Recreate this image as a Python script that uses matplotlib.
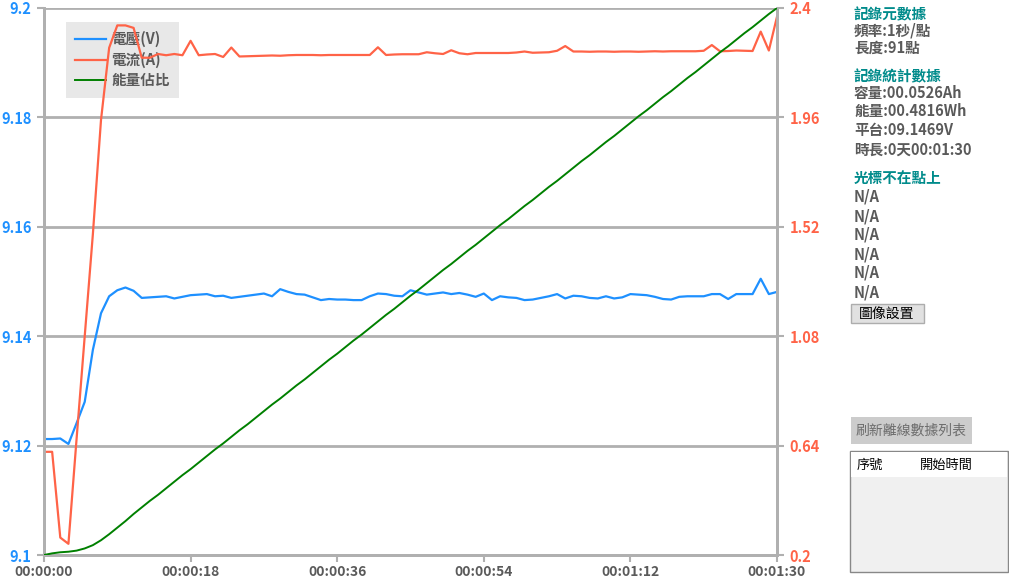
import matplotlib
matplotlib.use("Agg")
import matplotlib.pyplot as plt
from matplotlib.patches import Rectangle
from matplotlib.ticker import FuncFormatter

plt.rcParams['font.family'] = ['Noto Sans CJK TC', 'DejaVu Sans']

# data: 91 points, 1 s per point
seconds = list(range(91))
voltage = [9.1212, 9.1212, 9.1213, 9.1203, 9.1241, 9.1280, 9.1375, 9.1442, 9.1473, 9.1484,
           9.1489, 9.1483, 9.1470, 9.1471, 9.1472, 9.1473, 9.1469, 9.1472, 9.1475, 9.1476,
           9.1477, 9.1473, 9.1474, 9.1470, 9.1472, 9.1474, 9.1476, 9.1478, 9.1473, 9.1486,
           9.1481, 9.1477, 9.1476, 9.1471, 9.1466, 9.1468, 9.1467, 9.1467, 9.1466, 9.1466,
           9.1473, 9.1478, 9.1477, 9.1474, 9.1473, 9.1484, 9.1480, 9.1476, 9.1478, 9.1480,
           9.1477, 9.1479, 9.1476, 9.1472, 9.1478, 9.1466, 9.1473, 9.1471, 9.1470, 9.1466,
           9.1467, 9.1470, 9.1473, 9.1477, 9.1469, 9.1474, 9.1473, 9.1470, 9.1469, 9.1473,
           9.1469, 9.1471, 9.1477, 9.1476, 9.1475, 9.1472, 9.1468, 9.1467, 9.1472, 9.1473,
           9.1473, 9.1473, 9.1477, 9.1477, 9.1468, 9.1477, 9.1477, 9.1477, 9.1505, 9.1477,
           9.1481]
current = [0.615, 0.615, 0.270, 0.245, 0.667, 1.080, 1.490, 1.950, 2.240, 2.330,
           2.330, 2.320, 2.200, 2.200, 2.215, 2.210, 2.215, 2.210, 2.268, 2.210,
           2.213, 2.215, 2.203, 2.241, 2.205, 2.206, 2.207, 2.208, 2.209, 2.208,
           2.210, 2.211, 2.211, 2.211, 2.210, 2.211, 2.211, 2.211, 2.211, 2.211,
           2.211, 2.242, 2.211, 2.213, 2.214, 2.214, 2.214, 2.222, 2.218, 2.215,
           2.230, 2.218, 2.214, 2.219, 2.219, 2.219, 2.219, 2.219, 2.221, 2.225,
           2.220, 2.221, 2.222, 2.228, 2.247, 2.225, 2.225, 2.224, 2.225, 2.225,
           2.224, 2.225, 2.225, 2.224, 2.225, 2.226, 2.225, 2.226, 2.226, 2.226,
           2.226, 2.228, 2.251, 2.226, 2.227, 2.229, 2.228, 2.227, 2.305, 2.229,
           2.365]
energy_ratio = [0.000, 0.003, 0.005, 0.006, 0.008, 0.012, 0.018, 0.027, 0.038, 0.050,
                0.062, 0.075, 0.087, 0.099, 0.110, 0.122, 0.134, 0.146, 0.157, 0.169,
                0.181, 0.193, 0.204, 0.216, 0.228, 0.239, 0.251, 0.263, 0.275, 0.286,
                0.298, 0.310, 0.321, 0.333, 0.345, 0.357, 0.368, 0.380, 0.392, 0.403,
                0.415, 0.427, 0.439, 0.450, 0.462, 0.474, 0.485, 0.497, 0.509, 0.521,
                0.532, 0.544, 0.556, 0.567, 0.579, 0.591, 0.603, 0.614, 0.626, 0.638,
                0.649, 0.661, 0.673, 0.684, 0.696, 0.708, 0.720, 0.731, 0.743, 0.755,
                0.766, 0.778, 0.790, 0.802, 0.813, 0.825, 0.837, 0.848, 0.860, 0.872,
                0.883, 0.895, 0.907, 0.919, 0.930, 0.942, 0.954, 0.965, 0.977, 0.989,
                1.000]

x_ticks = [0, 18, 36, 54, 72, 90]
v_ticks = [9.1, 9.12, 9.14, 9.16, 9.18, 9.2]
i_ticks = [0.2, 0.64, 1.08, 1.52, 1.96, 2.4]
series_names = ['電壓(V)', '電流(A)', '能量佔比']

info_lines = [
    ('記錄元數據', 14, 'head'),
    ('頻率:1秒/點', 31, 'body'),
    ('長度:91點', 48, 'body'),
    ('記錄統計數據', 76, 'head'),
    ('容量:00.0526Ah', 93, 'body'),
    ('能量:00.4816Wh', 111, 'body'),
    ('平台:09.1469V', 130, 'body'),
    ('時長:0天00:01:30', 150, 'body'),
    ('光標不在點上', 178, 'head'),
    ('N/A', 197, 'body'),
    ('N/A', 216, 'body'),
    ('N/A', 235, 'body'),
    ('N/A', 254, 'body'),
    ('N/A', 273, 'body'),
    ('N/A', 292, 'body'),
]

W, H = 1009, 582
BLUE = '#1e90ff'
RED = '#ff6347'
GREEN = '#008000'
GRAY = '#b0b0b0'
TXT = '#5a5a5a'
TEAL = '#008b8b'


def px(x, y):
    return x / W, 1 - y / H


def hms(s, pos=None):
    s = int(round(s))
    return '%02d:%02d:%02d' % (s // 3600, (s // 60) % 60, s % 60)


fig = plt.figure(figsize=(W / 100, H / 100), dpi=100)
l, b = px(44, 555)
r, t = px(777, 8)
ax = fig.add_axes([l, b, r - l, t - b])
ax2 = ax.twinx()
ax3 = ax.twinx()

ln1, = ax.plot(seconds, voltage, color=BLUE, lw=1.6, label=series_names[0])
ln2, = ax2.plot(seconds, current, color=RED, lw=1.6, label=series_names[1])
ln3, = ax3.plot(seconds, energy_ratio, color=GREEN, lw=1.4, label=series_names[2])

ax.set_xlim(0, 90)
ax.set_ylim(9.1, 9.2)
ax2.set_ylim(0.2, 2.4)
ax3.set_ylim(0, 1)
ax3.axis('off')

ax.set_xticks(x_ticks)
ax.xaxis.set_major_formatter(FuncFormatter(hms))
ax.set_yticks(v_ticks)
ax.yaxis.set_major_formatter(FuncFormatter(lambda v, p: '%g' % v))
ax2.set_yticks(i_ticks)
ax2.yaxis.set_major_formatter(FuncFormatter(lambda v, p: '%g' % v))

ax.grid(axis='y', color=GRAY, lw=2)
ax.set_axisbelow(True)
for a in (ax, ax2):
    for s in a.spines.values():
        s.set_color(GRAY)
        s.set_linewidth(2)
    a.spines['top'].set_visible(False)

ax.tick_params(axis='x', colors=GRAY, width=1.5, length=5, pad=2,
               labelcolor=TXT, labelsize=10)
ax.tick_params(axis='y', colors=GRAY, width=1.5, length=5, pad=4,
               labelcolor=BLUE, labelsize=10.5)
ax2.tick_params(axis='y', colors=GRAY, width=1.5, length=5, pad=4,
                labelcolor=RED, labelsize=10.5)
for lab in ax.get_xticklabels() + ax.get_yticklabels() + ax2.get_yticklabels():
    lab.set_fontweight('bold')

leg = ax.legend(handles=[ln1, ln2, ln3], loc='upper left',
                bbox_to_anchor=(0.030, 0.975), frameon=True, fancybox=False,
                facecolor='#e8e8e8', edgecolor='none', framealpha=1,
                fontsize=10.5, handlelength=2.1, handletextpad=0.35,
                labelspacing=0.3, borderpad=0.65, borderaxespad=0)
for txt in leg.get_texts():
    txt.set_color(TXT)
    txt.set_fontweight('bold')

# right info panel
for text, y, kind in info_lines:
    fig.text(*px(854, y), text, ha='left', va='center', fontsize=10.5,
             fontweight='bold', color=TEAL if kind == 'head' else TXT)

fig.patches.append(Rectangle(px(851, 323), 73 / W, 19 / H, transform=fig.transFigure,
                             facecolor='#e1e1e1', edgecolor='#adadad', lw=1))
fig.text(*px(887, 314), '圖像設置', ha='center', va='center', fontsize=10, color='black')

fig.patches.append(Rectangle(px(851, 444), 121 / W, 27 / H, transform=fig.transFigure,
                             facecolor='#cccccc', edgecolor='none'))
fig.text(*px(911, 431), '刷新離線數據列表', ha='center', va='center', fontsize=10, color='#6d6d6d')

fig.patches.append(Rectangle(px(850, 572), 158 / W, 121 / H, transform=fig.transFigure,
                             facecolor='#f0f0f0', edgecolor='#888888', lw=1))
fig.patches.append(Rectangle(px(851, 477), 156 / W, 25 / H, transform=fig.transFigure,
                             facecolor='white', edgecolor='none'))
fig.text(*px(870, 465), '序號', ha='center', va='center', fontsize=9.5, color='black')
fig.text(*px(946, 465), '開始時間', ha='center', va='center', fontsize=9.5, color='black')

fig.savefig('out.png', dpi=100, facecolor='white')
